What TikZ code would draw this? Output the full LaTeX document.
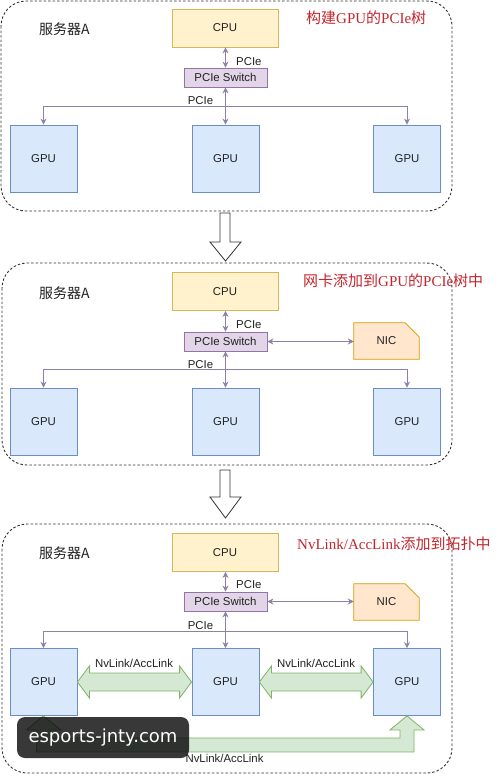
\documentclass[tikz,border=0pt]{standalone}
\usepackage{fontspec}
\setmainfont{Liberation Sans}
\newfontfamily\cjk{Noto Sans CJK SC}
\newfontfamily\tserif{Liberation Serif}
\newfontfamily\wmfont{DejaVu Sans}
\usetikzlibrary{arrows.meta,calc}
\definecolor{cpufill}{HTML}{FFF2CC}
\definecolor{cpuline}{HTML}{D6B656}
\definecolor{swfill}{HTML}{E1D5E7}
\definecolor{swline}{HTML}{9673A6}
\definecolor{gpufill}{HTML}{DAE8FC}
\definecolor{gpuline}{HTML}{6C8EBF}
\definecolor{nicfill}{HTML}{FFE6CC}
\definecolor{nicline}{HTML}{D79B00}
\definecolor{grfill}{HTML}{D5E8D4}
\definecolor{grline}{HTML}{82B366}
\definecolor{linkc}{HTML}{8F80A8}
\definecolor{titlered}{HTML}{C4262E}
\definecolor{txt}{HTML}{222222}
\definecolor{panelc}{HTML}{333333}
\tikzset{
  lab/.style={font=\fontsize{11.4}{13}\selectfont, text=txt},
  box/.style={draw, line width=0.8pt, inner sep=0pt, lab},
  cpubox/.style={box, fill=cpufill, draw=cpuline, minimum width=106pt, minimum height=38pt},
  swbox/.style={box, fill=swfill, draw=swline, minimum width=83pt, minimum height=19pt},
  gpubox/.style={box, fill=gpufill, draw=gpuline, minimum width=67pt, minimum height=67pt},
  nicbox/.style={inner sep=0pt, minimum width=65pt, minimum height=36pt, lab},
  nicshape/.style={fill=nicfill, draw=nicline, line width=0.8pt},
  link/.style={draw=linkc, line width=0.8pt, arrows={-}, >={Stealth[length=6pt,width=6pt]}},
  lbl/.style={lab, inner sep=0pt},
  srv/.style={inner sep=0pt, anchor=west, font=\cjk\fontsize{14}{16}\selectfont, text=txt},
  ttl/.style={inner sep=0pt, anchor=west, font=\tserif\fontsize{15}{17}\selectfont, text=titlered},
  panel/.style={draw=panelc, line width=0.9pt, dash pattern=on 2.5pt off 2pt, rounded corners=25pt},
  downarrow/.style={fill=white, draw=panelc, line width=0.8pt},
  greenarrow/.style={fill=grfill, draw=grline, line width=0.8pt},
  wm/.style={fill=black, fill opacity=0.78, text opacity=1, text=white, rounded corners=8pt,
    minimum width=172pt, minimum height=41pt, inner sep=0pt, font=\wmfont\fontsize{18}{20}\selectfont}
}
\newcommand\nicdraw[1]{%
  \path[nicshape] (#1.south west) -- (#1.north west) -- ($(#1.north east)+(-14,0)$)
    -- ($(#1.north east)+(0,14)$) -- (#1.south east) -- cycle;}
\newcommand\greendbl[2]{%
  \path[greenarrow] (#1.east) -- ++(12,-16) -- ++(0,7) -- ($(#2.west)+(-12,-9)$) -- ++(0,-7)
    -- (#2.west) -- ++(-12,16) -- ++(0,-7) -- ($(#1.east)+(12,9)$) -- ++(0,7) -- cycle;}
\begin{document}
\begin{tikzpicture}[x=1pt,y=-1pt]
\useasboundingbox (0,0) rectangle (500,774);
\fill[white] (0,0) rectangle (500,774);

% ---------------- Panel 1 ----------------
\draw[panel] (1,1) rectangle (452,211);
\node[srv] (srvA) at (39,29) {服务器A};
\node[ttl] (tA) at (306,18) {{\cjk 构建}GPU{\cjk 的}PCIe{\cjk 树}};
\node[cpubox] (cpuA) at (225,28) {CPU};
\node[swbox] (swA) at (225.5,77.5) {PCIe Switch};
\node[gpubox] (g1A) at (43.5,158.5) {GPU};
\node[gpubox] (g2A) at (225.5,158.5) {GPU};
\node[gpubox] (g3A) at (407,158.5) {GPU};
\coordinate (busA) at (225.5,106);
\draw[link,<->] (swA.north |- cpuA.south) -- (swA.north);
\draw[link,<->] (swA.south) -- (g2A.north);
\draw[link,->] (busA) -| (g1A.north);
\draw[link,->] (busA) -| (g3A.north);
\node[lbl,anchor=west] (pA1) at (236,61.5) {PCIe};
\node[lbl] (pA2) at (200.5,101) {PCIe};

% arrow 1
\draw[downarrow] (220,213) -- (230,213) -- (230,242) -- (241,242) -- (225.5,261) -- (210,242) -- (220,242) -- cycle;

% ---------------- Panel 2 ----------------
\draw[panel] (2,263) rectangle (452,465);
\node[srv] (srvB) at (39,293) {服务器A};
\node[ttl] (tB) at (303,281) {{\cjk 网卡添加到}GPU{\cjk 的}PCIe{\cjk 树中}};
\node[cpubox] (cpuB) at (225,291.5) {CPU};
\node[swbox] (swB) at (225.5,341.5) {PCIe Switch};
\node[nicbox] (nicB) at (386.5,341) {};
\nicdraw{nicB}
\node[lbl] (nicBt) at (nicB.center) {NIC};
\node[gpubox] (g1B) at (43.5,421.5) {GPU};
\node[gpubox] (g2B) at (225.5,421.5) {GPU};
\node[gpubox] (g3B) at (407,421.5) {GPU};
\coordinate (busB) at (225.5,369);
\draw[link,<->] (swB.north |- cpuB.south) -- (swB.north);
\draw[link,<->] (swB.south) -- (g2B.north);
\draw[link,->] (busB) -| (g1B.north);
\draw[link,->] (busB) -| (g3B.north);
\draw[link,<->] (swB.east) -- (swB.east -| nicB.west);
\node[lbl,anchor=west] (pB1) at (236,324.5) {PCIe};
\node[lbl] (pB2) at (200.5,364.5) {PCIe};

% arrow 2
\draw[downarrow] (220,470) -- (230,470) -- (230,497) -- (241,497) -- (225.5,518) -- (210,497) -- (220,497) -- cycle;

% ---------------- Panel 3 ----------------
\draw[panel] (2,524) rectangle (452,773);
\node[srv] (srvC) at (39,553) {服务器A};
\node[ttl] (tC) at (297,544) {NvLink/AccLink{\cjk 添加到拓扑中}};
\node[cpubox] (cpuC) at (225,552.5) {CPU};
\node[swbox] (swC) at (225.5,601.5) {PCIe Switch};
\node[nicbox] (nicC) at (386.5,602) {};
\nicdraw{nicC}
\node[lbl] (nicCt) at (nicC.center) {NIC};
\node[gpubox] (g1C) at (43.5,682) {GPU};
\node[gpubox] (g2C) at (225.5,682) {GPU};
\node[gpubox] (g3C) at (407,682) {GPU};
\coordinate (busC) at (225.5,631);
\draw[link,<->] (swC.north |- cpuC.south) -- (swC.north);
\draw[link,<->] (swC.south) -- (g2C.north);
\draw[link,->] (busC) -| (g1C.north);
\draw[link,->] (busC) -| (g3C.north);
\draw[link,<->] (swC.east) -- (swC.east -| nicC.west);
\node[lbl,anchor=west] (pC1) at (236,585) {PCIe};
\node[lbl] (pC2) at (200.5,626) {PCIe};

% NvLink block arrows
\greendbl{g1C}{g2C}
\greendbl{g2C}{g3C}
\node[lbl] (nv1) at (134,663) {NvLink/AccLink};
\node[lbl] (nv2) at (316,663) {NvLink/AccLink};

% bottom U arrow
\path[greenarrow] (g1C.south) -- ++(17,14) -- ++(-10,0) -- ++(0,8)
  -- ($(g3C.south)+(-7,22)$) -- ++(0,-8) -- ++(-10,0) -- (g3C.south) -- ++(17,14) -- ++(-10,0)
  -- ($(g3C.south)+(7,36)$) -- ($(g1C.south)+(-7,36)$) -- ++(0,-22) -- ++(-10,0) -- cycle;
\node[lbl] (nv3) at (224.5,758) {NvLink/AccLink};

% watermark badge
\node[wm] (wmark) at (103,737.5) {esports-jnty.com};
\end{tikzpicture}
\end{document}
